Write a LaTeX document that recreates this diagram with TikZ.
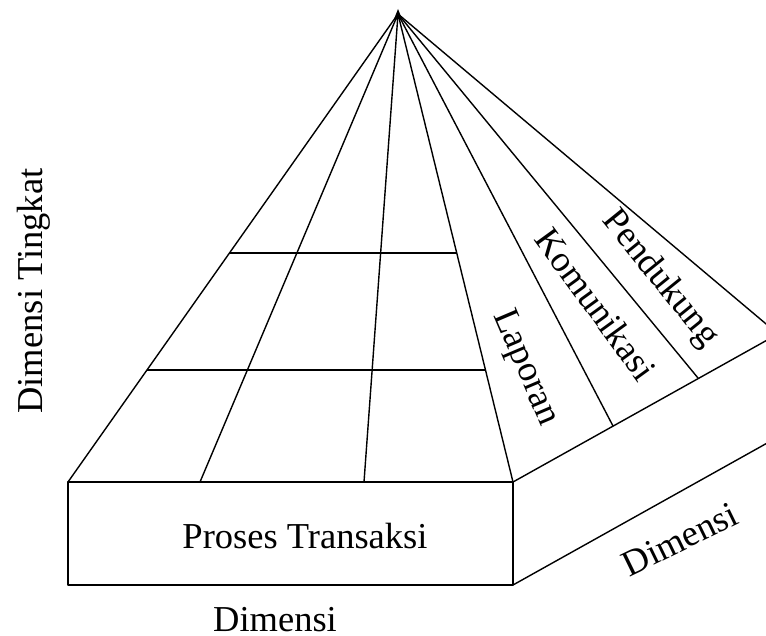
\documentclass[tikz,border=0pt]{standalone}
\usepackage{fontspec}
\setmainfont{Liberation Serif}
\usetikzlibrary{calc}
\begin{document}
\begin{tikzpicture}[x=1pt,y=-1pt,
  edge/.style={line width=1.4pt,line join=round},
  lbl/.style={inner sep=0pt,font=\fontsize{36.5}{40}\selectfont}]
\useasboundingbox (0,0) rectangle (766,636);
\clip (0,0) rectangle (766,636);

% apex and base corners
\coordinate (A) at (398,14);
\coordinate (FL) at (68,482);
\coordinate (FR) at (513,482);
\coordinate (BL) at (68,585);
\coordinate (BR) at (513,585);
\coordinate (G1) at (200,482);
\coordinate (G2) at (364,482);
\coordinate (RC) at (778,334);
\coordinate (RB) at (778,437);
\coordinate (D1) at (613,426);
\coordinate (D2) at (698,378);

% front face grid levels
\coordinate (H1L) at ($(A)!0.5107!(FL)$);
\coordinate (H1R) at ($(A)!0.5107!(FR)$);
\coordinate (H2L) at ($(A)!0.7607!(FL)$);
\coordinate (H2R) at ($(A)!0.7607!(FR)$);

% front block
\draw[edge] (FL) rectangle (BR);

% pyramid front face
\draw[edge] (FL) -- (A) -- (FR);
\draw[edge] (G1) -- (A) -- (G2);
\draw[edge] (H1L) -- (H1R);
\draw[edge] (H2L) -- (H2R);

% pyramid side face
\draw[edge] (A) -- (RC) -- (FR);
\draw[edge] (A) -- (D1);
\draw[edge] (A) -- (D2);
\draw[edge] (BR) -- (RB);

% tip
\fill (394,19) -- (398,9) -- (402,19) -- cycle;

% labels
\node[lbl,anchor=base] (proses) at (305,548) {Proses Transaksi};
\node[lbl,anchor=base] (dimB) at (275,631) {Dimensi};
\node[lbl,anchor=base,rotate=26] (dimR) at (685,550) {Dimensi};
\node[lbl,anchor=base,rotate=90] (dimT) at (42,291) {Dimensi Tingkat};
\node[lbl,rotate=-67] (lap) at (525,368) {Laporan};
\node[lbl,rotate=-54] (kom) at (596,304) {Komunikasi};
\node[lbl,rotate=-51] (pen) at (660,279) {Pendukung};
\end{tikzpicture}
\end{document}
